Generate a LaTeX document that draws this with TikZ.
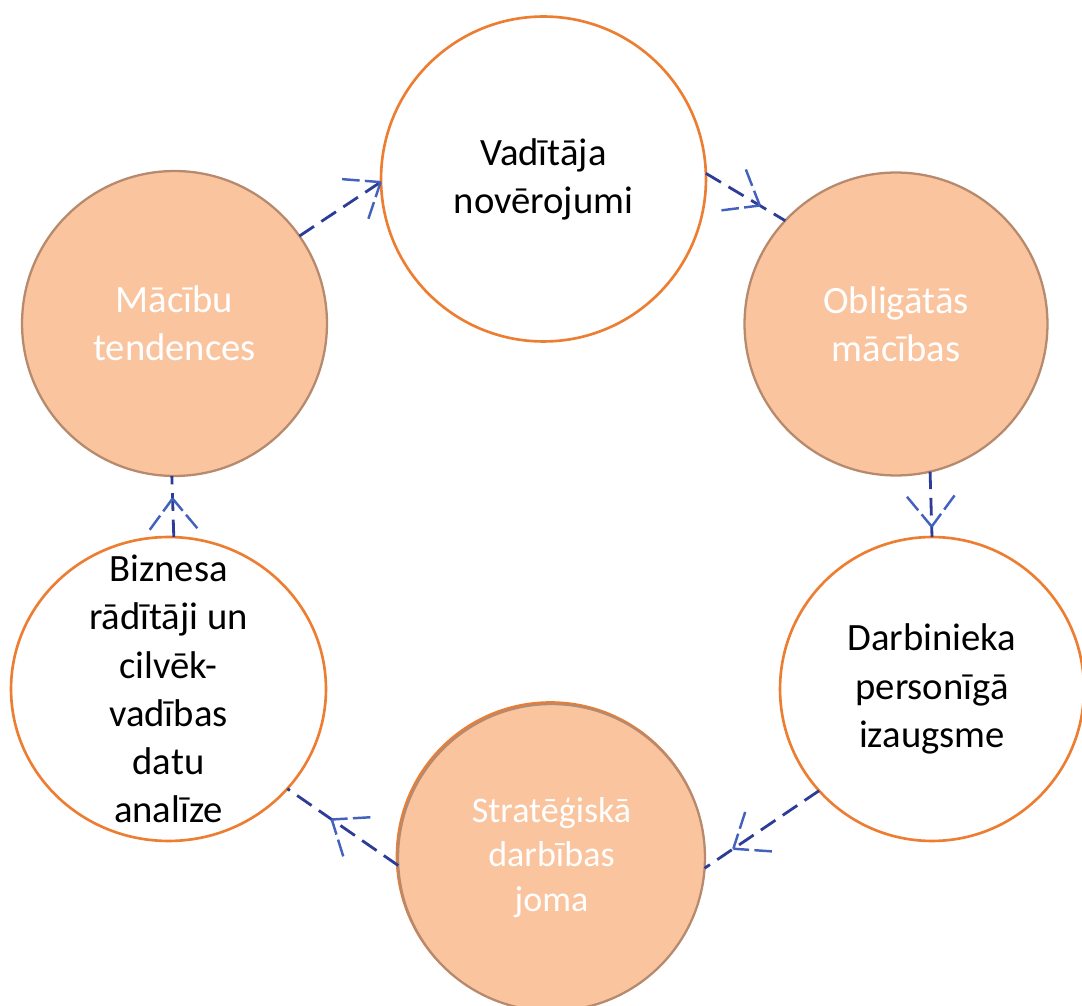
\documentclass[tikz,border=0pt]{standalone}
\usepackage{fontspec}
\setmainfont{Carlito}
\usetikzlibrary{shapes.geometric,decorations.markings}
\definecolor{peach}{RGB}{250,196,159}
\definecolor{brownedge}{RGB}{183,138,110}
\definecolor{orangeedge}{RGB}{237,125,49}
\definecolor{lineblue}{RGB}{45,60,150}
\definecolor{wingblue}{RGB}{66,98,190}
\tikzset{
  txt/.style={align=center, font=\fontsize{22}{27.4}\selectfont, inner sep=0pt, outer sep=0pt},
  whitecirc/.style={circle, draw=orangeedge, line width=1.5pt, fill=white, txt, text=black},
  peachcirc/.style={circle, draw=brownedge, line width=1.3pt, fill=peach, txt, text=white},
  cyc/.style={draw=lineblue, line width=1.6pt, dash pattern=on 10pt off 5pt,
    postaction={decorate},
    decoration={markings, mark=at position #1 with {
      \draw[wingblue, line width=1.4pt, dash pattern=on 9pt off 3pt on 12pt off 4pt]
        (0,0) -- (142:22pt) (0,0) -- (-142:22pt);}}}
}
\begin{document}
\begin{tikzpicture}[x=0.02cm,y=-0.02cm]
\useasboundingbox (0,0) rectangle (1082,1006);
\fill[white] (0,0) rectangle (1082,1006);
% nodes
\node[whitecirc, minimum size=6.5cm] (top) at (543.5,179) {Vadītāja\\novērojumi};
\node[peachcirc, minimum size=6.06cm] (rt) at (896,324) {Obligātās\\mācības};
\node[whitecirc, minimum size=6.08cm] (db) at (932,689) {Darbinieka\\personīgā\\izaugsme};
\draw[orangeedge, line width=1.5pt] (550.5,856) circle (153.5);
\node[peachcirc, minimum size=6.14cm, font=\fontsize{20.5}{25.5}\selectfont] (st) at (551.5,857.5) {Stratēģiskā\\darbības\\joma};
\node[ellipse, draw=orangeedge, line width=1.5pt, fill=white, inner sep=0pt, outer sep=0pt, minimum width=6.3cm, minimum height=6.08cm] (bz) at (168.5,689) {};
\node[txt] (bztext) at (bz.center) {Biznesa\\rādītāji un\\cilvēk-\\vadības\\datu\\analīze};
\node[peachcirc, minimum size=6.1cm] (ml) at (174.5,323.5) {Mācību\\tendences};
% connectors
\draw[cyc=0.995] (ml.35) -- (top.181);
\draw[cyc=0.68] (top.2) -- (rt.137);
\draw[cyc=0.84] (rt.283) -- (db.90);
\draw[cyc=0.75] (db.222) -- (st.356);
\draw[cyc=0.6] (st.183) -- (bz.320);
\draw[cyc=0.63] (bz.88) -- (ml.269);
\end{tikzpicture}
\end{document}
